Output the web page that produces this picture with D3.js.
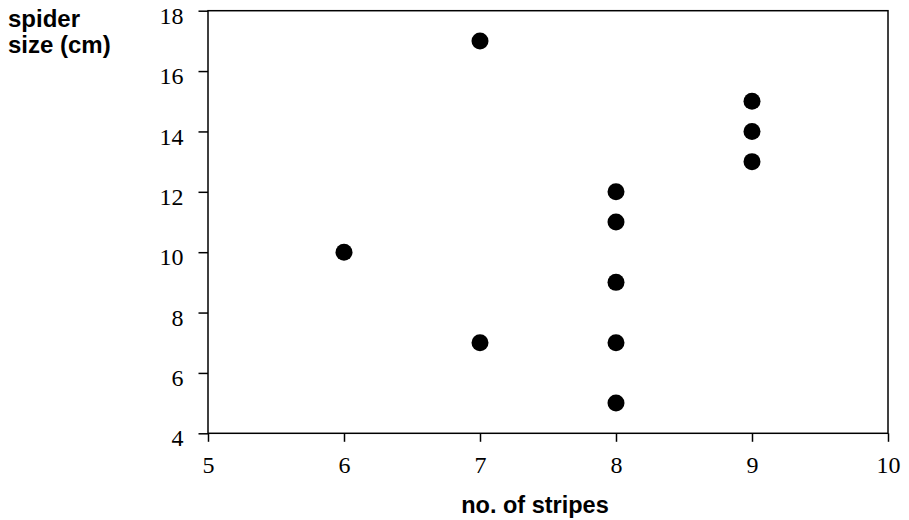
<!DOCTYPE html>
<html><head><meta charset="utf-8">
<script src="https://cdn.jsdelivr.net/npm/d3@7"></script>
<style>body{margin:0;background:#fff}svg{display:block}</style>
</head><body>
<svg id="c" width="909" height="520"></svg>
<script>
const stripes = [6, 7, 7, 8, 8, 8, 8, 8, 9, 9, 9];
const sizes   = [10, 17, 7, 12, 11, 9, 7, 5, 15, 14, 13];
const xTicks = [5, 6, 7, 8, 9, 10];
const yTicks = [4, 6, 8, 10, 12, 14, 16, 18];

const svg = d3.select("#c");
const L = 208, R = 888, T = 10.7, B = 433.3;
const x = d3.scaleLinear().domain([5, 10]).range([L, R]);
const y = d3.scaleLinear().domain([4, 18]).range([B, T]);

// frame
svg.append("rect").attr("x", L).attr("y", T).attr("width", R - L).attr("height", B - T)
  .attr("fill", "none").attr("stroke", "#000").attr("stroke-width", 1.5);

const xa = svg.append("g").attr("transform", `translate(0,${B})`)
  .call(d3.axisBottom(x).tickValues(xTicks).tickSize(8.5).tickPadding(15).tickFormat(d3.format("d")));
const ya = svg.append("g").attr("transform", `translate(${L},0)`)
  .call(d3.axisLeft(y).tickValues(yTicks).tickSize(9.5).tickPadding(15).tickFormat(d3.format("d")));
[xa, ya].forEach(g => {
  g.select(".domain").remove();
  g.selectAll("line").attr("stroke", "#000").attr("stroke-width", 1.5);
  g.selectAll("text").attr("font-family", "'Liberation Serif', 'Times New Roman', serif")
    .attr("font-size", 24).attr("fill", "#000");
});
ya.selectAll("text").attr("dy", "0.32em").attr("y", 5);
xa.selectAll("text").attr("dy", "0.71em").attr("y", 23);

svg.append("g").selectAll("circle").data(stripes).join("circle")
  .attr("cx", (d) => x(d)).attr("cy", (d, i) => y(sizes[i])).attr("r", 8.5).attr("fill", "#000");

const tf = "'Liberation Sans', Arial, sans-serif";
svg.append("text").attr("x", (L + R) / 2 - 13).attr("y", 513).attr("text-anchor", "middle")
  .attr("font-family", tf).attr("font-weight", "bold").attr("font-size", 23.5).text("no. of stripes");
svg.append("text").attr("x", 8).attr("y", 27).attr("font-family", tf).attr("font-weight", "bold")
  .attr("font-size", 24).text("spider");
svg.append("text").attr("x", 8).attr("y", 53).attr("font-family", tf).attr("font-weight", "bold")
  .attr("font-size", 24).text("size (cm)");
</script>
</body></html>
